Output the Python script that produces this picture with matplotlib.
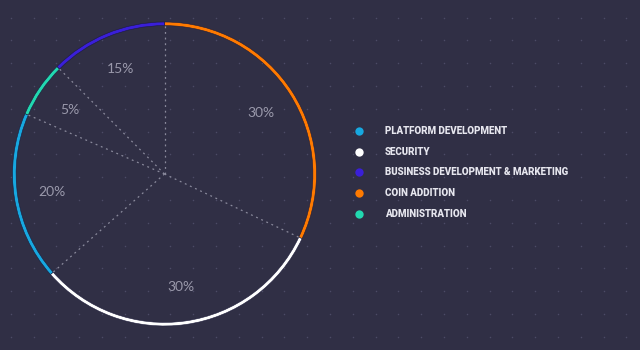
import numpy as np
import matplotlib
matplotlib.use('Agg')
import matplotlib.pyplot as plt

# legend order
categories = ['PLATFORM DEVELOPMENT', 'SECURITY', 'BUSINESS DEVELOPMENT & MARKETING',
              'COIN ADDITION', 'ADMINISTRATION']
colors = ['#17a8e0', '#ffffff', '#3a1fd8', '#ff7a00', '#22d8b0']
# arc sizes as drawn, and the label printed on each slice
sizes = [18, 31.5, 12.5, 32, 6]
pct_labels = ['20%', '30%', '15%', '30%', '5%']
# clockwise from the top
pie_order = [3, 1, 0, 4, 2]

bg = '#302f45'
W, H = 640, 350
cx, cy, R = 164.5, H - 174, 152

fig = plt.figure(figsize=(6.4, 3.5), dpi=100, facecolor=bg)
ax = fig.add_axes([0, 0, 1, 1])
ax.set_facecolor(bg)

# dotted background grid
gx, gy = np.meshgrid(np.arange(10.8, W, 22.8), np.arange(17.6, H, 22.8))
ax.scatter(gx.ravel(), H - gy.ravel(), s=1.2, color='#4c4b66', lw=0, zorder=0)

vals = [sizes[i] for i in pie_order]
cols = [colors[i] for i in pie_order]
ax.pie(vals, colors=cols, startangle=90, counterclock=False, center=(cx, cy),
       radius=R, wedgeprops=dict(width=3.6, edgecolor='#1c1b3a', linewidth=0.4),
       frame=True)

# radial dotted separators and percent labels
ang = 90 - 360 * np.cumsum([0] + vals) / sum(vals)
for a in ang[:-1]:
    t = np.deg2rad(a)
    ax.plot([cx, cx + (R - 3) * np.cos(t)], [cy, cy + (R - 3) * np.sin(t)],
            color='#8a8a9c', lw=0.9, ls=(0, (1.5, 3)), zorder=1)
for k, i in enumerate(pie_order):
    t = np.deg2rad((ang[k] + ang[k + 1]) / 2)
    ax.text(cx + 0.75 * R * np.cos(t), cy + 0.75 * R * np.sin(t), pct_labels[i],
            color='#9a99ab', fontsize=10, family='Lato', ha='center', va='center')

# legend
for j, (name, c) in enumerate(zip(categories, colors)):
    y = H - (131 + 20.7 * j)
    ax.scatter([358.5], [y], s=36, color=c, lw=0, zorder=3)
    ax.text(385, y, name, color='#e6e6ee', fontsize=7.0, fontweight='heavy',
            family='Roboto', ha='left', va='center')

ax.set_xlim(0, W)
ax.set_ylim(0, H)
ax.set_aspect('equal')
ax.axis('off')

fig.savefig('out.png', dpi=100, facecolor=bg)
